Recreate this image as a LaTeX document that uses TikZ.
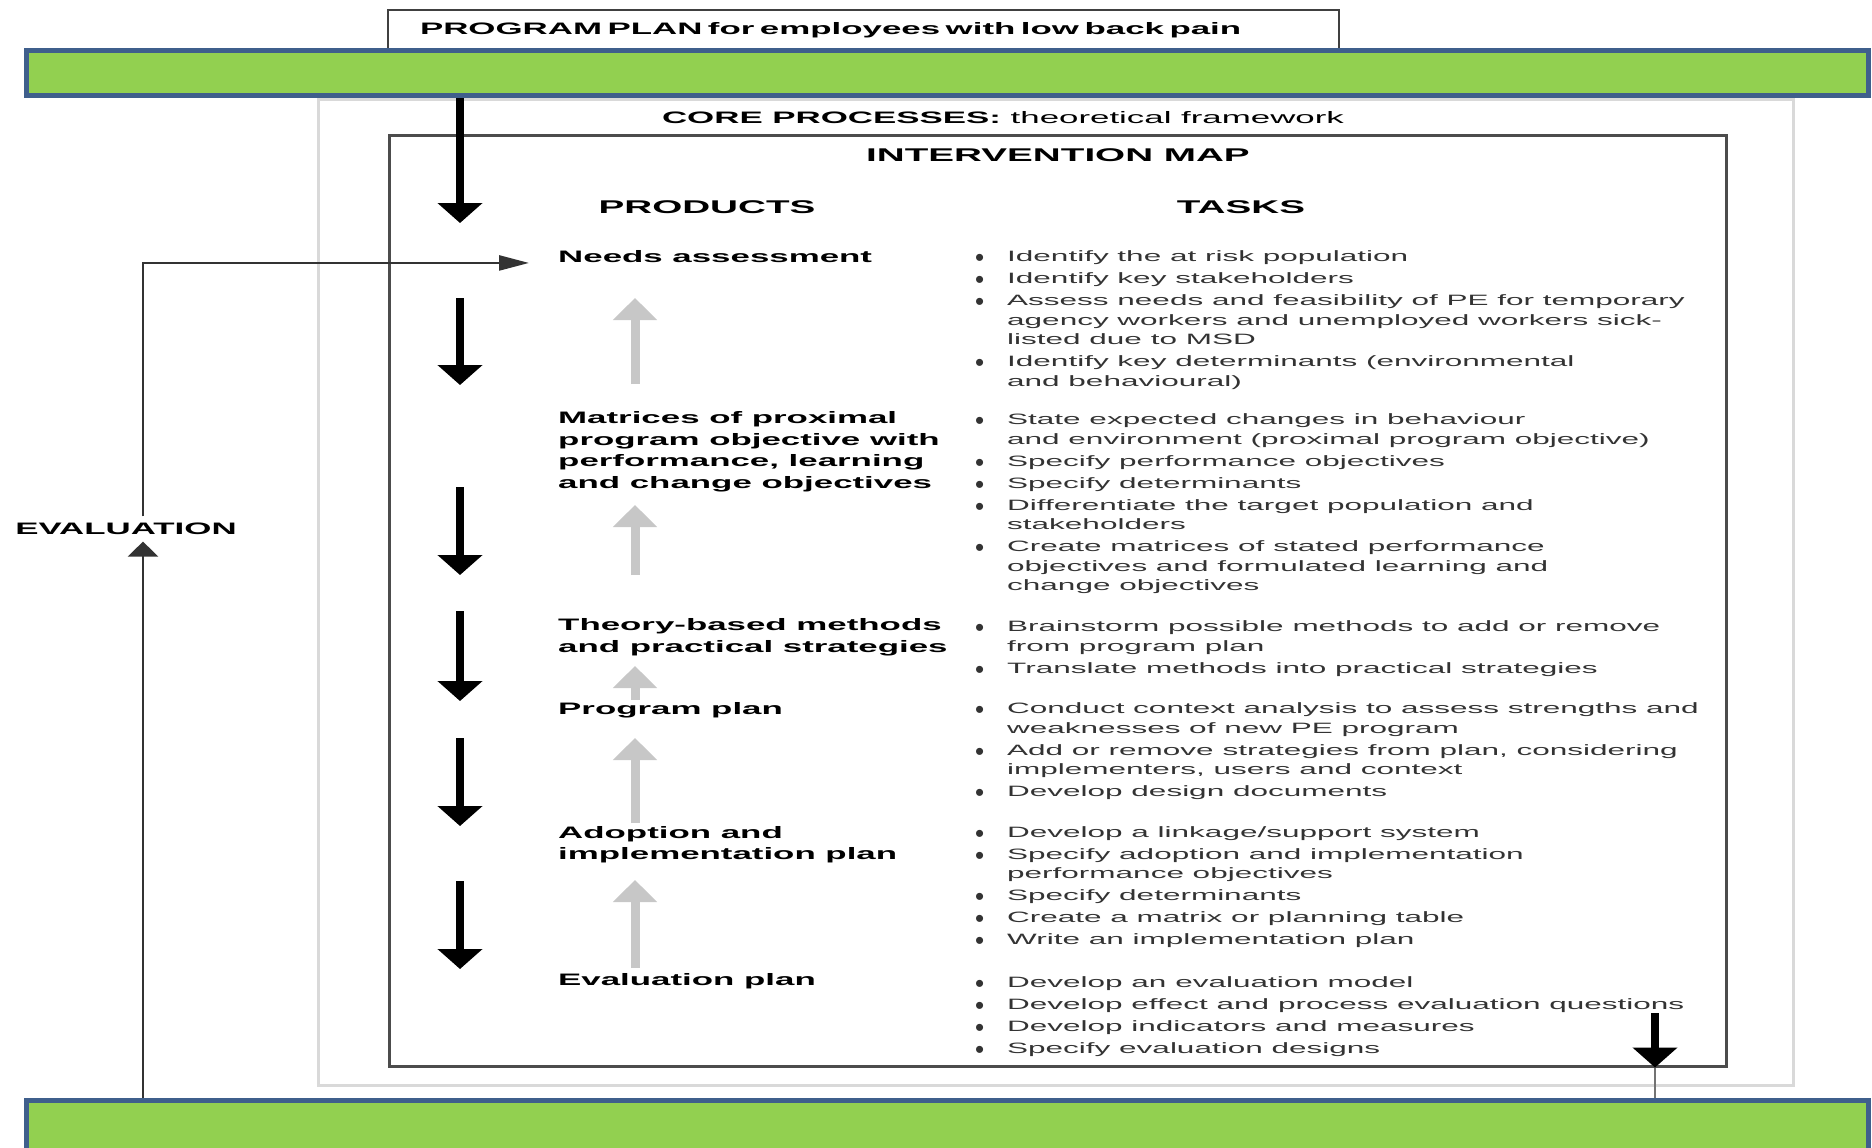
\documentclass[tikz,border=0pt]{standalone}
\usepackage{fontspec}
\setmainfont{Liberation Sans}[FakeStretch=2.1]
\newfontfamily\dotfont{Liberation Sans}
\usetikzlibrary{arrows.meta}
\definecolor{barfill}{HTML}{92D050}
\definecolor{barline}{HTML}{3F5F8C}
\newcommand{\tb}{\makebox[32pt][l]{\smash{\raisebox{-5pt}{\dotfont\fontsize{26}{26}\selectfont\textbullet}}}}
\newcommand{\tc}{\hspace*{32pt}}

\begin{document}
\begin{tikzpicture}[x=1pt,y=-1pt,
  bar/.style={draw=barline,fill=barfill,line width=5pt,inner sep=0pt},
  frame/.style={draw=black!70,line width=3pt,inner sep=0pt},
  head/.style={font=\fontsize{18.4}{22}\selectfont\bfseries,inner sep=0pt},
  prod/.style={font=\fontsize{16.6}{21.5}\selectfont\bfseries,align=left,inner sep=0pt,
               anchor=north west,execute at begin node=\strut},
  task/.style={font=\fontsize{15}{19.5}\selectfont,text=black!80,align=left,inner sep=0pt,
               anchor=north west,execute at begin node=\strut},
  darr/.style={-{Triangle[width=44pt,length=20pt]},line width=8pt},
  garr/.style={-{Triangle[width=43pt,length=22pt]},line width=9pt,draw=black!22},
  tline/.style={line width=2.5pt,draw=black!80}
]
\useasboundingbox (0,0) rectangle (1872,1148);
\clip (0,0) rectangle (1872,1148);

% frames and bars
\node[draw=black!75,line width=2.5pt,minimum height=40pt,inner xsep=32pt,inner ysep=0pt,
      text width=887pt,align=left,font=\fontsize{16.6}{20}\selectfont\bfseries] (title) at (863.5,30) {PROGRAM PLAN for employees with low back pain};
\node[bar,minimum width=1842pt,minimum height=45pt] (topbar) at (947,73) {};
\node[draw=black!15,line width=3pt,minimum width=1475pt,minimum height=986pt,inner sep=0pt] (core) at (1055.5,592) {};
\node[frame,minimum width=1337pt,minimum height=931pt] (imap) at (1057.5,600.5) {};
\node[bar,minimum width=1842pt,minimum height=80pt] (botbar) at (947,1140.5) {};

% headings
\node[font=\fontsize{16.6}{20}\selectfont,inner sep=0pt] (corelbl) at (1003,118) {\textbf{CORE PROCESSES:} theoretical framework};
\node[head] (imaplbl) at (1058,155) {INTERVENTION MAP};
\node[head] (prodlbl) at (707,207) {PRODUCTS};
\node[head] (tasklbl) at (1241,207) {TASKS};
\node[font=\fontsize{16.6}{20}\selectfont\bfseries,inner xsep=0pt,inner ysep=6.5pt] (evl) at (126,529) {EVALUATION};

% products (top = first baseline - strut)
\node[prod] (needs) at (558,247) {Needs assessment};
\node[prod] (matr) at (558,411.5) {Matrices of proximal\\program objective with\\performance, learning\\and change objectives};
\node[prod] (theory) at (558,618.5) {Theory-based methods\\and practical strategies};
\node[prod] (plan) at (558,699) {Program plan};
\node[prod] (adopt) at (558,826) {Adoption and\\implementation plan};
\node[prod] (evalp) at (558,970.5) {Evaluation plan};

% tasks
\node[task] (t1) at (975,250.5) {\tb Identify the at risk population\\[2.5pt]
  \tb Identify key stakeholders\\[2.5pt]
  \tb Assess needs and feasibility of PE for temporary\\
  \tc agency workers and unemployed workers sick-\\
  \tc listed due to MSD\\[2.5pt]
  \tb Identify key determinants (environmental\\
  \tc and behavioural)};
\node[task] (t2) at (975,413.5) {\tb State expected changes in behaviour\\
  \tc and environment (proximal program objective)\\[2.5pt]
  \tb Specify performance objectives\\[2.5pt]
  \tb Specify determinants\\[2.5pt]
  \tb Differentiate the target population and\\
  \tc stakeholders\\[2.5pt]
  \tb Create matrices of stated performance\\
  \tc objectives and formulated learning and\\
  \tc change objectives};
\node[task] (t3) at (975,620.5) {\tb Brainstorm possible methods to add or remove\\
  \tc from program plan\\[2.5pt]
  \tb Translate methods into practical strategies};
\node[task] (t4) at (975,702.5) {\tb Conduct context analysis to assess strengths and\\
  \tc weaknesses of new PE program\\[2.5pt]
  \tb Add or remove strategies from plan, considering\\
  \tc implementers, users and context\\[2.5pt]
  \tb Develop design documents};
\node[task] (t5) at (975,826) {\tb Develop a linkage/support system\\[2.5pt]
  \tb Specify adoption and implementation\\
  \tc performance objectives\\[2.5pt]
  \tb Specify determinants\\[2.5pt]
  \tb Create a matrix or planning table\\[2.5pt]
  \tb Write an implementation plan};
\node[task] (t6) at (975,976) {\tb Develop an evaluation model\\[2.5pt]
  \tb Develop effect and process evaluation questions\\[2.5pt]
  \tb Develop indicators and measures\\[2.5pt]
  \tb Specify evaluation designs};

% downward steps
\coordinate (dx) at (460,0);
\coordinate (d0) at (460,223);
\draw[darr] (topbar.south -| dx) -- (d0);
\foreach \ya/\yb [count=\i] in {298/385,487/575,611/701,738/826,881/969}{
  \coordinate (d\i a) at (460,\ya);
  \coordinate (d\i b) at (460,\yb);
  \draw[darr] (d\i a) -- (d\i b);
}

% feedback between products
\foreach \ya/\yb [count=\i] in {384/298,575/505,700/666,823/738,968/880}{
  \coordinate (g\i a) at (635,\ya);
  \coordinate (g\i b) at (635,\yb);
  \draw[garr] (g\i a) -- (g\i b);
}

% evaluation loop
\coordinate (ex) at (143,0);
\draw[tline,-{Triangle[width=30pt,length=15pt]}] (botbar.north -| ex) -- (evl.south -| ex);
\draw[tline,-{Triangle[width=15pt,length=30pt]},shorten >=29pt] (evl.north -| ex) |- ([yshift=-5pt]needs.west);

% exit to bottom bar
\coordinate (rx) at (1655,0);
\coordinate (rtop) at (1655,1013);
\draw[line width=2.5pt,draw=black!55] (imap.south -| rx) -- (botbar.north -| rx);
\draw[darr] (rtop) -- (imap.south -| rx);
\end{tikzpicture}
\end{document}
